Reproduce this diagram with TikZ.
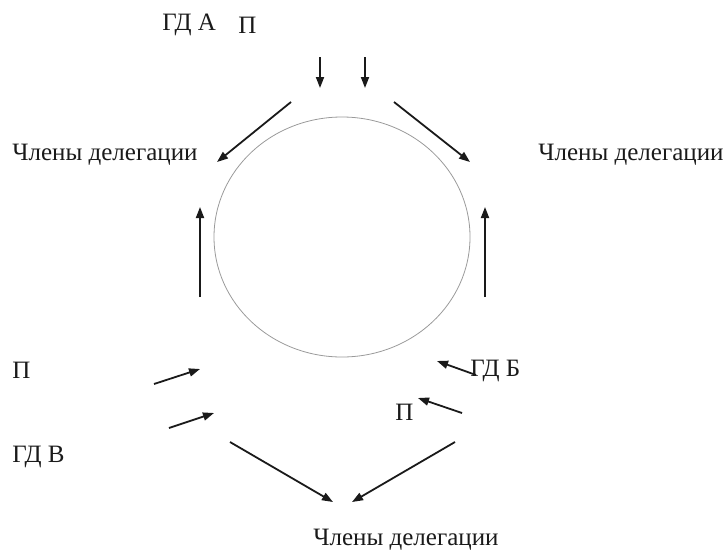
\documentclass[tikz,border=0pt]{standalone}
\usepackage{fontspec}
\setmainfont{Liberation Serif}
\usetikzlibrary{arrows.meta,calc,positioning}
\definecolor{ink}{HTML}{1A1A1A}
\definecolor{ring}{HTML}{9A9A9A}

\begin{document}
\begin{tikzpicture}[
  x=0.5pt, y=-0.5pt,
  font=\fontsize{12.5}{15}\selectfont,
  text=ink,
  >={Triangle[length=5.5pt,width=4pt]},
  label text/.style={inner sep=0pt, anchor=west},
  flow/.style={->, draw=ink, line width=0.9pt}
]
\useasboundingbox (0,0) rectangle (726,552);

% Circle of the negotiation
\draw[ring, line width=0.4pt] (342,237) ellipse [x radius=128, y radius=120];

% Texts
\node[label text] (gdA) at (162,25) {ГД А};
\node[label text] (pA) at (238,25) {П};
\node[label text] (membersL) at (12,155) {Члены делегации};
\node[label text] (membersR) at (538,155) {Члены делегации};
\node[label text] (pB) at (12,370) {П};
\node[label text] (gdV) at (12,457) {ГД В};
\node[label text] (gdB) at (470,371) {ГД Б};
\node[label text] (pR) at (395,412) {П};
\node[label text] (membersD) at (313,540) {Члены делегации};

% Arrow ends
\coordinate (inA1) at (320,57);  \coordinate (outA1) at (320,88);
\coordinate (inA2) at (365,57);  \coordinate (outA2) at (365,88);
\coordinate (topL1) at (291,102); \coordinate (topL2) at (217,162);
\coordinate (topR1) at (394,102); \coordinate (topR2) at (470,162);
\coordinate (upL1) at (200,297); \coordinate (upL2) at (200,207);
\coordinate (upR1) at (485,297); \coordinate (upR2) at (485,207);
\coordinate (inV1) at (154,384); \coordinate (outV1) at (200,369);
\coordinate (inV2) at (169,428); \coordinate (outV2) at (214,413);
\coordinate (inB1) at (476,375); \coordinate (outB1) at (437,361);
\coordinate (inB2) at (462,413); \coordinate (outB2) at (418,398);
\coordinate (downL1) at (230,442); \coordinate (downL2) at (333,502);
\coordinate (downR1) at (455,442); \coordinate (downR2) at (352,502);

\foreach \a/\b in {inA1/outA1, inA2/outA2, topL1/topL2, topR1/topR2,
                   upL1/upL2, upR1/upR2, inV1/outV1, inV2/outV2,
                   inB1/outB1, inB2/outB2, downL1/downL2, downR1/downR2}
  \draw[flow] (\a) -- (\b);

\end{tikzpicture}
\end{document}
